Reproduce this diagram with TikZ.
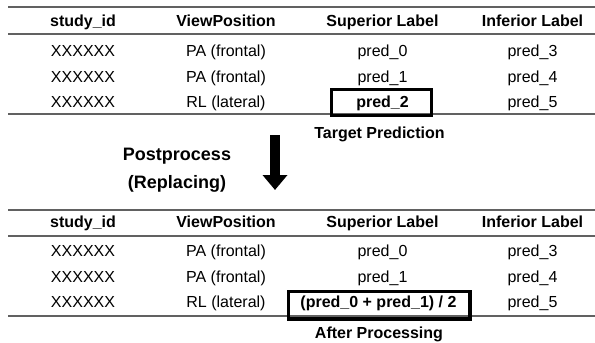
\documentclass[tikz,border=0pt]{standalone}
\usepackage{fontspec}
\setmainfont{Liberation Sans}
\usetikzlibrary{arrows.meta}

\tikzset{
  cell/.style={anchor=base, inner sep=0pt, font=\fontsize{16}{19}\selectfont},
  head/.style={cell, font=\fontsize{16}{19}\selectfont\bfseries},
  note/.style={cell, font=\fontsize{16}{19}\selectfont\bfseries},
  bignote/.style={anchor=base, inner sep=0pt, font=\fontsize{18}{21}\selectfont\bfseries},
  tablerule/.style={draw=black!62, line width=1.3pt},
  hilite/.style={draw=black, line width=3.2pt, inner sep=0pt},
  bigarrow/.style={line width=10pt, -{Triangle[width=24pt,length=15pt]}},
}

\begin{document}
\begin{tikzpicture}[x=1pt, y=-1pt]
\useasboundingbox (0,0) rectangle (595,343);

% ---------- upper table ----------
\coordinate (uL1) at (8,7);    \coordinate (uR1) at (595,7);
\coordinate (uL2) at (8,34);   \coordinate (uR2) at (595,34);
\coordinate (uL3) at (8,114);  \coordinate (uR3) at (595,114);
\draw[tablerule] (uL1) -- (uR1);
\draw[tablerule] (uL2) -- (uR2);
\draw[tablerule] (uL3) -- (uR3);

\node[head] (uh1) at (83,26.7)  {study\_id};
\node[head] (uh2) at (226,26.7) {ViewPosition};
\node[head] (uh3) at (382.5,26.7) {Superior Label};
\node[head] (uh4) at (532.5,26.7) {Inferior Label};

\node[cell] (ua1) at (83,56.7)  {XXXXXX};
\node[cell] (ua2) at (226,56.7) {PA (frontal)};
\node[cell] (ua3) at (382.5,56.7) {pred\_0};
\node[cell] (ua4) at (532.5,56.7) {pred\_3};

\node[cell] (ub1) at (83,82.2)  {XXXXXX};
\node[cell] (ub2) at (226,82.2) {PA (frontal)};
\node[cell] (ub3) at (382.5,82.2) {pred\_1};
\node[cell] (ub4) at (532.5,82.2) {pred\_4};

\node[cell] (uc1) at (83,107.7)  {XXXXXX};
\node[cell] (uc2) at (226,107.7) {RL (lateral)};
\node[hilite, minimum width=99.5pt, minimum height=25.3pt] (ubox) at (381.5,102.5) {};
\node[cell, font=\fontsize{16}{19}\selectfont\bfseries] (uc3) at (382.5,107.7) {pred\_2};
\node[cell] (uc4) at (532.5,107.7) {pred\_5};

\node[note] (target) at (379.5,138.2) {Target Prediction};

% ---------- transition ----------
\node[bignote] (pp1) at (177,160.7) {Postprocess};
\node[bignote] (pp2) at (177,188) {(Replacing)};
\coordinate (arrTop) at (275,135);
\coordinate (arrTip) at (275,190);
\draw[bigarrow] (arrTop) -- (arrTip);

% ---------- lower table ----------
\coordinate (lL1) at (8,210);  \coordinate (lR1) at (595,210);
\coordinate (lL2) at (8,236);  \coordinate (lR2) at (595,236);
\coordinate (lL3) at (8,316);  \coordinate (lR3) at (595,316);
\draw[tablerule] (lL1) -- (lR1);
\draw[tablerule] (lL2) -- (lR2);
\draw[tablerule] (lL3) -- (lR3);

\node[head] (lh1) at (83,227.7)  {study\_id};
\node[head] (lh2) at (226,227.7) {ViewPosition};
\node[head] (lh3) at (382.5,227.7) {Superior Label};
\node[head] (lh4) at (532.5,227.7) {Inferior Label};

\node[cell] (la1) at (83,256.7)  {XXXXXX};
\node[cell] (la2) at (226,256.7) {PA (frontal)};
\node[cell] (la3) at (382.5,256.7) {pred\_0};
\node[cell] (la4) at (532.5,256.7) {pred\_3};

\node[cell] (lb1) at (83,282.7)  {XXXXXX};
\node[cell] (lb2) at (226,282.7) {PA (frontal)};
\node[cell] (lb3) at (382.5,282.7) {pred\_1};
\node[cell] (lb4) at (532.5,282.7) {pred\_4};

\node[cell] (lc1) at (83,307.7)  {XXXXXX};
\node[cell] (lc2) at (226,307.7) {RL (lateral)};
\node[hilite, minimum width=181.3pt, minimum height=27.3pt] (lbox) at (379.4,305.3) {};
\node[cell, font=\fontsize{16}{19}\selectfont\bfseries] (lc3) at (378.5,307.7) {(pred\_0 + pred\_1) / 2};
\node[cell] (lc4) at (532.5,307.7) {pred\_5};

\node[note] (after) at (379,338.5) {After Processing};
\end{tikzpicture}
\end{document}
